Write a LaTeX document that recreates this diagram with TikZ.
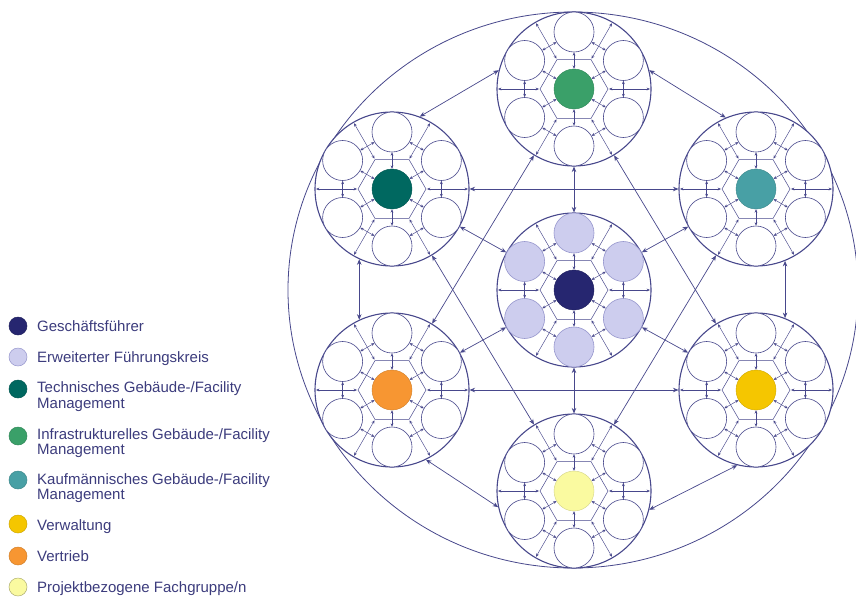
\documentclass[tikz,border=0pt]{standalone}
\usepackage{fontspec}
\setmainfont{Liberation Sans}
\usetikzlibrary{arrows.meta,calc}
\definecolor{lc}{RGB}{72,72,140}
\definecolor{gf}{RGB}{38,38,112}
\definecolor{efk}{RGB}{205,205,238}
\definecolor{efkd}{RGB}{150,150,205}
\definecolor{tgf}{RGB}{0,104,96}
\definecolor{igf}{RGB}{58,160,105}
\definecolor{kgf}{RGB}{72,160,165}
\definecolor{verw}{RGB}{245,198,0}
\definecolor{vert}{RGB}{247,150,50}
\definecolor{proj}{RGB}{250,250,160}
\definecolor{txt}{RGB}{60,60,125}
\newcommand{\mycluster}[6]{%
  \node[outerring] (#1) at (#2,#3) {};
  \draw[innerln] (#2,#3) ++(0:34) -- ++(120:34) -- ++(180:34) -- ++(240:34) -- ++(300:34) -- ++(0:34) -- cycle;
  \node[corecirc,fill=#4,draw=#4!85!black] (#1c) at (#2,#3) {};
  \foreach \k in {0,...,5}{
    \pgfmathsetmacro{\ang}{90-60*\k}
    \node[satcirc,fill=#5,draw=#6] (#1s\k) at ($(#2,#3)+(\ang:57)$) {};
  }
  \foreach \k in {0,...,5}{
    \pgfmathtruncatemacro{\nx}{mod(\k+1,6)}
    \pgfmathsetmacro{\mid}{60-60*\k}
    \draw[minilink] (#1s\k) -- (#1s\nx);
    \draw[minilink] (#1c) -- (#1s\k);
    \coordinate (#1i\k) at ($(#2,#3)+(\mid:35)$);
    \coordinate (#1o\k) at ($(#2,#3)+(\mid:76)$);
    \draw[minilink] (#1i\k) -- (#1o\k);
  }
}
\begin{document}
\begin{tikzpicture}[x=1pt,y=-1pt,
  outerring/.style={circle,draw=lc,line width=1.1pt,fill=white,minimum size=154pt,inner sep=0pt},
  corecirc/.style={circle,minimum size=40pt,inner sep=0pt,line width=0.4pt},
  satcirc/.style={circle,minimum size=40pt,inner sep=0pt,line width=0.6pt},
  link/.style={draw=lc,line width=0.7pt,{Stealth[length=5.5pt,width=4.5pt]}-{Stealth[length=5.5pt,width=4.5pt]}},
  minilink/.style={draw=lc,line width=0.45pt,{Stealth[length=3.4pt,width=2.8pt]}-{Stealth[length=3.4pt,width=2.8pt]}},
  innerln/.style={draw=lc,line width=0.5pt},
  bigring/.style={draw=lc,line width=0.8pt},
  legdot/.style={circle,minimum size=18pt,inner sep=0pt,line width=0.5pt},
  legtxt/.style={anchor=base west,inner sep=0pt,text=txt,font=\fontsize{15}{16}\selectfont}
]
\fill[white] (0,0) rectangle (856,600);
\useasboundingbox (0,0) rectangle (856,600);
\draw[bigring] (573,290) ellipse [x radius=285, y radius=278];

\mycluster{ctr}{574}{290}{gf}{efk}{efkd}
\mycluster{top}{574}{89}{igf}{white}{lc}
\mycluster{tl}{392}{189}{tgf}{white}{lc}
\mycluster{tr}{756}{189}{kgf}{white}{lc}
\mycluster{bl}{392}{390}{vert}{white}{lc}
\mycluster{br}{756}{390}{verw}{white}{lc}
\mycluster{bot}{574}{491}{proj}{white}{lc}

% centre to outer
\draw[link] (ctr) -- (top);
\draw[link] (ctr) -- (bot);
\draw[link] (ctr) -- (tl);
\draw[link] (ctr) -- (tr);
\draw[link] (ctr) -- (bl);
\draw[link] (ctr) -- (br);
% star
\draw[link] (tl) -- (tr);
\draw[link] (bl) -- (br);
\draw[link] (top) -- (bl);
\draw[link] (top) -- (br);
\draw[link] (tl) -- (bot);
\draw[link] (tr) -- (bot);
% ring
\draw[link] (top.166) -- (tl.69);
\draw[link] (top.14) -- (tr.113);
\draw[link] (tl.245) -- (bl.115);
\draw[link] (tr.292) -- (br.68);
\draw[link] (bl.296) -- (bot.192);
\draw[link] (br.256) -- (bot.346);

% legend
\node[legdot,fill=gf,draw=gf!85!black] (d1) at (18,326) {};
\node[legdot,fill=efk,draw=efkd] (d2) at (18,357) {};
\node[legdot,fill=tgf,draw=tgf!85!black] (d3) at (18,389) {};
\node[legdot,fill=igf,draw=igf!85!black] (d4) at (18,436) {};
\node[legdot,fill=kgf,draw=kgf!85!black] (d5) at (18,480) {};
\node[legdot,fill=verw,draw=verw!85!black] (d6) at (18,524) {};
\node[legdot,fill=vert,draw=vert!85!black] (d7) at (18,556) {};
\node[legdot,fill=proj,draw=proj!70!black] (d8) at (18,587) {};

\node[legtxt] (t1) at (37,331) {Geschäftsführer};
\node[legtxt] (t2) at (37,362) {Erweiterter Führungskreis};
\node[legtxt] (t3a) at (37,392) {Technisches Gebäude-/Facility};
\node[legtxt] (t3b) at (37,408) {Management};
\node[legtxt] (t4a) at (37,439) {Infrastrukturelles Gebäude-/Facility};
\node[legtxt] (t4b) at (37,454) {Management};
\node[legtxt] (t5a) at (37,484) {Kaufmännisches Gebäude-/Facility};
\node[legtxt] (t5b) at (37,499) {Management};
\node[legtxt] (t6) at (37,530) {Verwaltung};
\node[legtxt] (t7) at (37,561) {Vertrieb};
\node[legtxt] (t8) at (37,592) {Projektbezogene Fachgruppe/n};
\end{tikzpicture}
\end{document}
